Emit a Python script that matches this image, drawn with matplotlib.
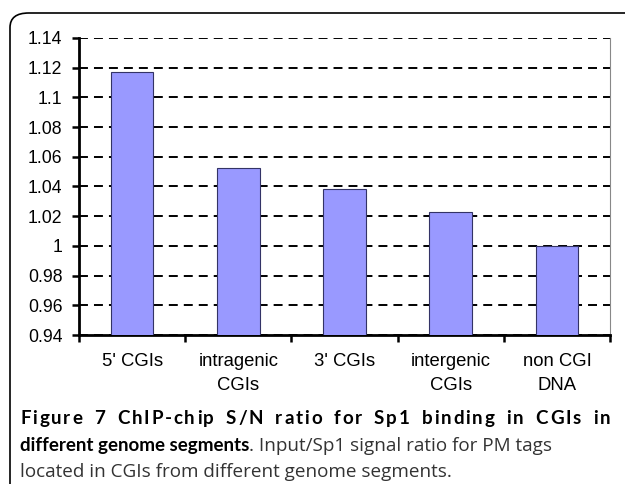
import matplotlib
matplotlib.use("Agg")
import matplotlib.pyplot as plt
from matplotlib.patches import FancyBboxPatch

categories = ["5' CGIs", "intragenic\nCGIs", "3' CGIs", "intergenic\nCGIs", "non CGI\nDNA"]
ratios = [1.117, 1.0525, 1.038, 1.0225, 1.0]
yticks = [0.94, 0.96, 0.98, 1.0, 1.02, 1.04, 1.06, 1.08, 1.1, 1.12, 1.14]
ytick_labels = ["0.94", "0.96", "0.98", "1", "1.02", "1.04", "1.06", "1.08", "1.1", "1.12", "1.14"]

caption_bold_1 = "Figure 7 ChIP-chip S/N ratio for Sp1 binding in CGIs in"
caption_bold_2 = "different genome segments"
caption_rest_2 = ". Input/Sp1 signal ratio for PM tags"
caption_3 = "located in CGIs from different genome segments."

W, H = 625, 484
fig = plt.figure(figsize=(W / 100, H / 100), dpi=100)

# rounded frame around figure + caption (runs off the right/bottom edges)
frame = FancyBboxPatch((10 / W, -0.2), 1.2, 1 - 13 / H + 0.2,
                       boxstyle="round,pad=0,rounding_size=0.03",
                       transform=fig.transFigure, fill=False, ec="black", lw=1.2)
fig.patches.append(frame)

ax = fig.add_axes([79 / W, 1 - 335 / H, (610 - 79) / W, (335 - 38) / H])
x = list(range(len(categories)))
ax.bar(x, ratios, width=0.4, color="#9999ff", edgecolor="#333366", linewidth=0.8, zorder=3)

ax.set_ylim(0.94, 1.14)
ax.set_xlim(-0.5, len(categories) - 0.5)
ax.set_yticks(yticks)
ax.set_yticklabels(ytick_labels)
ax.set_xticks([i - 0.5 for i in range(len(categories) + 1)])
ax.set_xticklabels([])
ax.set_xticks(x, minor=True)
ax.set_xticklabels(categories, minor=True)
ax.tick_params(axis="x", which="minor", length=0, pad=13)
ax.tick_params(axis="x", which="major", length=5, width=1.8, direction="out")
ax.tick_params(axis="y", length=5, width=1.8, direction="out", pad=7)
for lab in ax.get_yticklabels():
    lab.set_fontfamily("Liberation Sans")
    lab.set_fontsize(12.7)
for lab in ax.get_xticklabels(minor=True):
    lab.set_fontfamily("Liberation Sans")
    lab.set_fontsize(13.3)
    lab.set_linespacing(1.5)

for y in yticks:
    ax.axhline(y, color="black", lw=1.4, linestyle=(0, (4.6, 3.1)), zorder=1)

ax.spines["left"].set_linewidth(2)
ax.spines["bottom"].set_linewidth(2)
ax.spines["right"].set_color("#888888")
ax.spines["right"].set_linewidth(0.8)
ax.spines["top"].set_visible(False)

# caption
renderer = fig.canvas.get_renderer()
x0, x1 = 20, 610
bold_font, reg_font = "Lato", "Open Sans"


def text_width(s, family, weight, size):
    t = fig.text(0, 0, s, fontsize=size, family=family, weight=weight)
    w = t.get_window_extent(renderer).width
    t.remove()
    return w


# pick sizes so the caption lines are as wide as in the source
reg_size = 10 * 432 / text_width(caption_3, reg_font, "normal", 10)
bold_size = 10 * 230 / text_width(caption_bold_2, bold_font, "bold", 10)

# first line is justified by letter spacing
space_w = (text_width("a a", bold_font, "bold", bold_size)
           - text_width("aa", bold_font, "bold", bold_size))
chars = list(caption_bold_1)
cw = [space_w if c == " " else text_width(c, bold_font, "bold", bold_size) for c in chars]
n_units = sum(3 if c == " " else 1 for c in chars[1:])
extra = (x1 - x0 - sum(cw)) / n_units
xp = x0
for c, w in zip(chars, cw):
    if c != " ":
        fig.text(xp / W, 1 - 424 / H, c, fontsize=bold_size, family=bold_font, weight="bold")
    xp += w + extra * (3 if c == " " else 1)

fig.text(x0 / W, 1 - 451 / H, caption_bold_2, fontsize=bold_size, family=bold_font, weight="bold")
bw = text_width(caption_bold_2, bold_font, "bold", bold_size)
fig.text((x0 + bw) / W, 1 - 451 / H, caption_rest_2, fontsize=reg_size, family=reg_font, color="#333333")
fig.text(x0 / W, 1 - 477 / H, caption_3, fontsize=reg_size, family=reg_font, color="#333333")

fig.savefig("out.png", dpi=100)
